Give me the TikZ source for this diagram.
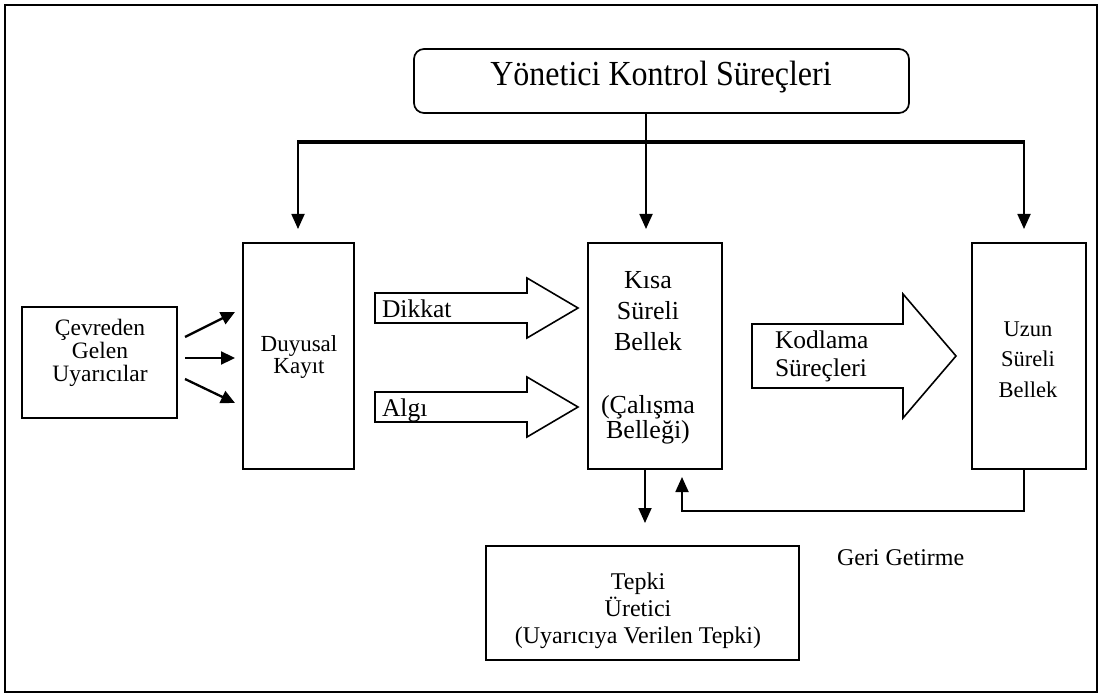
\documentclass[tikz,border=0pt]{standalone}
\usepackage{fontspec}
\usepackage{graphicx}
\setmainfont{Liberation Serif}
\usetikzlibrary{arrows.meta,calc}
\begin{document}
\begin{tikzpicture}[x=1pt,y=-1pt,
  box/.style={draw,line width=1.7pt,inner sep=0pt,outer sep=0pt},
  arr/.style={line width=1.8pt,-{Triangle[length=15pt,width=13pt]}},
  inarr/.style={line width=2.3pt,-{Triangle[length=14pt,width=13pt]}},
  blk/.style={draw,line width=1.6pt,line join=miter},
  txt/.style={inner sep=0pt,outer sep=0pt,align=center},
  fs/.style 2 args={font=\fontsize{#1}{#2}\selectfont}]
\useasboundingbox (0,0) rectangle (1101,695);
\draw[line width=2.2pt] (5,5) rectangle (1097,692);

% boxes
\node[box,rounded corners=10pt,minimum width=495,minimum height=64] (title) at (661.5,81) {};
\node[box,minimum width=155,minimum height=111] (cev) at (99.5,362.5) {};
\node[box,minimum width=111,minimum height=226] (duy) at (298.5,356) {};
\node[box,minimum width=134,minimum height=226] (kisa) at (655,356) {};
\node[box,minimum width=114,minimum height=226] (uzun) at (1029,356) {};
\node[box,minimum width=313,minimum height=114] (tepki) at (642.5,603) {};

% texts (anchor=base is the baseline of the last line)
\node[txt,anchor=base,fs={32}{34}] (titletext) at (661,86) {\scalebox{1}[1.1]{Yönetici Kontrol Süreçleri}};
\node[txt,anchor=base,fs={23.5}{23}] (cevtext) at (100,381) {Çevreden\\Gelen\\Uyarıcılar};
\node[txt,anchor=base,fs={23}{22}] (duytext) at (299,373) {Duyusal\\Kayıt};
\node[txt,anchor=base,fs={26}{31}] (kisatext) at (648,350) {Kısa\\Süreli\\Bellek};
\node[txt,anchor=base,fs={26}{25}] (calisma) at (648,438) {(Çalışma\\Belleği)};
\node[txt,anchor=base,fs={22.5}{30.5}] (uzuntext) at (1028,397) {Uzun\\Süreli\\Bellek};
\node[txt,anchor=base,fs={24}{27}] (tepkitext) at (638,643) {Tepki\\Üretici\\(Uyarıcıya Verilen Tepki)};
\node[txt,anchor=base west,fs={24}{24}] (geri) at (837,565) {Geri Getirme};

% block arrows
\draw[blk] (375,293) -- (527,293) -- (527,278) -- (578,308) -- (527,338) -- (527,323) -- (375,323) -- cycle;
\draw[blk] (375,392) -- (527,392) -- (527,377) -- (578,407) -- (527,437) -- (527,422) -- (375,422) -- cycle;
\draw[blk] (752,324) -- (903,324) -- (903,294) -- (956,356) -- (903,418) -- (903,388) -- (752,388) -- cycle;
\node[txt,anchor=base west,fs={25.5}{28}] (dikkat) at (382,317) {Dikkat};
\node[txt,anchor=base west,fs={25.5}{28}] (algi) at (382,416) {Algı};
\node[txt,anchor=base west,align=left,fs={25.5}{28}] (kodlama) at (775,376) {Kodlama\\Süreçleri};

% top distribution
\coordinate (bL) at (298,142);
\coordinate (bM) at (646,142);
\coordinate (bR) at (1024,142);
\draw[line width=4pt] ([xshift=-1pt]bL) -- ([xshift=1pt]bR);
\draw[line width=1.8pt] (title.south -| bM) -- (bM);
\draw[arr,shorten >=14pt] (bL) -- (bL |- duy.north);
\draw[arr,shorten >=14pt] (bM) -- (bM |- kisa.north);
\draw[arr,shorten >=14pt] (bR) -- (bR |- uzun.north);

% input arrows
\draw[inarr] ([xshift=8pt,yshift=25.5pt]cev.east) -- ([xshift=-8pt,yshift=44pt]duy.west);
\draw[inarr] ([xshift=8pt,yshift=4.5pt]cev.east) -- ([xshift=-8pt,yshift=-2pt]duy.west);
\draw[inarr] ([xshift=8pt,yshift=-16.5pt]cev.east) -- ([xshift=-8pt,yshift=-47pt]duy.west);

% output and retrieval
\draw[arr,shorten >=23pt] (kisa.south -| 645,0) -- (tepki.north -| 645,0);
\coordinate (ret) at (682,511);
\draw[arr,shorten >=8pt] (uzun.south -| bR) |- (ret) -- (ret |- kisa.south);
\end{tikzpicture}
\end{document}
